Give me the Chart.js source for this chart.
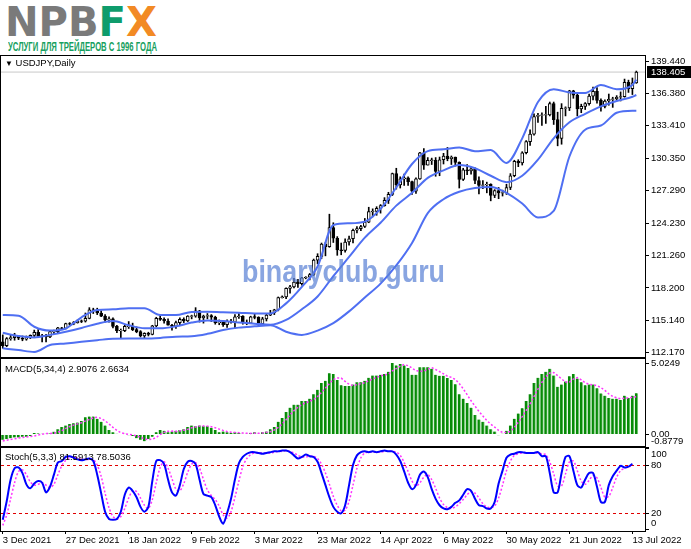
<!DOCTYPE html>
<html>
<head>
<meta charset="utf-8">
<script src="https://cdn.jsdelivr.net/npm/chart.js@4.4.0/dist/chart.umd.min.js"></script>
<style>
  body { margin: 0; background: #fff; }
  #wrap { position: relative; width: 691px; height: 549px; overflow: hidden; font-family: "Liberation Sans", Arial, sans-serif; }
  canvas { position: absolute; left: 0; }
  .hdr { position: absolute; left: 5px; font-size: 9.5px; color: #000; white-space: nowrap; }
  .logo { position: absolute; left: 5px; top: -1px; font-family: "DejaVu Sans", sans-serif; font-weight: bold; font-size: 40px; white-space: nowrap; display: inline-block; transform-origin: 0 0; }
  .sub { position: absolute; left: 8px; top: 40px; font-family: "Liberation Sans Narrow", "Liberation Sans", sans-serif; font-weight: bold; font-size: 12px; color: #17a060; white-space: nowrap; display: inline-block; transform-origin: 0 0; }
  .wm { position: absolute; left: 242px; top: 254px; font-family: "Liberation Sans", sans-serif; font-weight: bold; font-size: 31px; color: rgba(92, 130, 214, 0.72); white-space: nowrap; display: inline-block; transform-origin: 0 0; }
</style>
</head>
<body>
<div id="wrap">
  <div class="logo" id="logo"><span style="color:#7a7a7a">NPB</span><span style="color:#0e9c6c">F</span><span style="color:#f28a24">X</span></div>
  <div class="sub" id="sub">УСЛУГИ ДЛЯ ТРЕЙДЕРОВ С 1996 ГОДА</div>
  <canvas id="main" width="691" height="362" style="top:0"></canvas>
  <canvas id="macd" width="691" height="96" style="top:355px"></canvas>
  <canvas id="stoch" width="691" height="106" style="top:443px"></canvas>
  <div class="hdr" style="top:57px"><span style="font-size:8px">&#9660;</span> USDJPY,Daily</div>
  <div class="hdr" style="top:363px">MACD(5,34,4) 2.9076 2.6634</div>
  <div class="hdr" style="top:451px">Stoch(5,3,3) 81.5913 78.5036</div>
  <div class="wm" id="wm">binaryclub.guru</div>
</div>
<script>
// USDJPY daily, 3 Dec 2021 .. 14 Jul 2022 (incl. two short Sunday bars in March)
const opens = [113.15,112.80,113.45,113.55,113.70,113.50,113.40,113.55,113.75,114.05,113.70,113.70,113.60,114.10,114.10,114.45,114.40,114.85,114.80,114.95,115.10,
  115.08,115.35,116.15,116.10,115.85,115.55,115.20,115.30,114.60,114.20,114.20,114.60,114.60,114.30,114.10,113.70,113.95,113.85,114.65,115.35,115.25,
  115.10,114.70,114.60,114.95,115.25,115.10,115.55,115.55,116.05,115.40,115.55,115.60,115.45,114.95,115.00,114.75,115.10,115.00,115.50,115.55,
  114.95,114.90,115.50,115.45,114.85,115.30,115.65,115.85,116.15,117.30,117.35,118.15,118.30,118.75,118.60,119.15,119.20,119.45,120.80,121.15,122.30,122.05,123.85,122.85,121.75,
  121.70,122.50,122.80,123.60,123.75,123.95,124.35,125.35,125.35,125.65,125.90,126.40,126.95,128.90,127.85,128.40,128.50,128.15,127.25,128.40,130.85,
  129.70,130.15,130.15,129.10,130.20,130.55,130.30,130.45,129.95,128.35,129.25,129.15,129.35,128.25,127.80,127.85,127.90,126.85,127.30,127.10,127.10,127.60,
  128.70,130.05,129.90,130.85,131.90,132.60,134.25,134.35,134.40,134.40,135.45,133.95,132.20,135.00,135.05,136.65,136.25,134.95,135.20,135.45,136.15,136.60,
  135.75,135.20,135.70,135.85,135.90,136.05,136.10,137.45,136.85,137.40];
const highs = [113.80,113.55,113.80,113.95,113.75,113.70,113.70,113.80,114.25,114.30,113.85,113.85,114.15,114.25,114.50,114.50,114.90,114.95,115.05,115.20,115.20,
  115.85,116.35,116.30,116.30,116.05,115.70,115.50,115.40,114.70,114.35,114.70,115.05,114.90,114.55,114.20,114.00,114.05,114.70,115.45,115.70,115.40,
  115.30,114.80,115.10,115.40,115.40,115.60,115.65,116.35,116.10,115.65,115.80,115.70,115.55,115.20,115.10,115.20,115.25,115.70,115.80,115.60,
  115.20,115.55,115.75,115.50,115.45,115.80,116.10,116.20,117.35,117.45,118.20,118.45,119.10,119.00,119.20,119.25,119.55,120.90,121.40,122.40,122.45,125.10,124.30,123.00,122.40,
  122.80,123.05,123.70,123.95,124.05,124.70,125.75,125.60,125.80,126.00,126.65,127.15,128.95,129.40,128.60,128.85,128.60,128.20,128.50,130.90,131.25,
  130.40,130.35,130.40,130.45,130.80,131.35,130.55,130.45,130.00,129.40,129.75,129.50,129.45,128.60,128.25,128.10,127.95,127.40,127.60,127.35,127.90,128.90,
  130.15,130.20,130.95,132.00,133.00,134.50,134.55,134.60,135.20,135.60,135.60,134.65,135.45,135.15,136.70,136.70,136.35,135.40,135.55,136.35,137.00,136.95,
  135.90,135.80,136.35,136.05,136.20,136.55,137.75,137.65,137.85,138.50];
const lows = [112.55,112.70,113.30,113.30,113.35,113.25,113.30,113.45,113.65,113.60,113.15,113.15,113.55,113.90,114.00,114.30,114.35,114.70,114.75,114.90,114.95,
  115.00,115.30,115.80,115.70,115.50,115.00,115.00,114.45,114.00,113.50,114.10,114.40,114.20,114.00,113.60,113.50,113.70,113.80,114.55,115.15,114.90,
  114.70,114.25,114.40,114.70,114.95,115.05,115.30,115.45,115.00,114.90,115.30,115.05,114.80,114.75,114.60,114.50,114.90,114.40,115.35,114.80,
  114.75,114.85,115.30,114.65,114.80,115.10,115.60,115.70,116.05,117.25,117.20,117.70,118.20,118.25,118.45,119.05,118.95,119.35,120.45,120.95,121.20,122.00,122.45,121.25,121.30,
  121.55,122.20,122.40,123.35,123.55,123.85,124.30,124.85,125.00,125.20,125.85,126.10,126.85,127.45,127.55,127.80,127.80,126.95,127.05,128.35,129.30,
  129.70,129.75,128.65,128.70,129.80,130.10,129.75,129.60,127.55,128.25,128.80,128.85,127.95,127.00,127.50,127.10,126.35,126.65,126.55,126.80,126.95,127.40,
  128.60,129.55,129.70,130.75,131.55,132.50,133.70,133.40,133.60,134.30,133.50,131.50,131.65,134.30,134.80,135.95,134.30,134.60,134.90,135.30,135.80,135.50,
  134.75,135.05,135.30,135.10,135.80,135.70,136.05,136.50,136.30,137.35];
const closes = [112.80,113.45,113.55,113.70,113.50,113.40,113.55,113.75,114.05,113.70,113.70,113.60,114.10,114.10,114.45,114.40,114.85,114.80,114.95,115.10,115.08,
  115.35,116.15,116.10,115.85,115.55,115.20,115.30,114.60,114.20,114.20,114.60,114.60,114.30,114.10,113.70,113.95,113.85,114.65,115.35,115.25,115.10,
  114.70,114.60,114.95,115.25,115.10,115.55,115.55,116.05,115.40,115.55,115.60,115.45,114.95,115.00,114.75,115.10,115.00,115.50,115.55,114.95,
  114.90,115.50,115.45,114.85,115.30,115.65,115.85,116.15,117.30,117.35,118.15,118.30,118.75,118.60,119.15,119.20,119.45,120.80,121.15,122.30,122.05,123.85,122.85,121.75,121.70,
  122.50,122.80,123.60,123.75,123.95,124.35,125.35,125.35,125.65,125.90,126.40,126.95,128.90,127.85,128.40,128.50,128.15,127.25,128.40,130.85,129.70,
  130.15,130.15,129.10,130.20,130.55,130.30,130.45,129.95,128.35,129.25,129.15,129.35,128.25,127.80,127.85,127.90,126.85,127.30,127.10,127.10,127.60,128.70,
  130.05,129.90,130.85,131.90,132.60,134.25,134.35,134.40,134.40,135.45,133.95,132.20,135.00,135.05,136.65,136.25,134.95,135.20,135.45,136.15,136.60,135.75,
  135.20,135.70,135.85,135.90,136.05,136.10,137.45,136.85,137.40,138.40];
const bidPrice = 138.405;

const bbBars   = [0,4,8,12,16,20,24,28,32,36,40,44,48,52,56,60,64,68,72,76,80,84,88,92,96,100,104,108,112,116,120,124,128,132,136,140,144,148,152,156,160,161];
const bbUpper  = [115.66,115.60,114.56,114.20,114.40,115.45,116.13,116.19,116.30,116.30,115.66,115.66,115.95,115.97,115.91,115.88,115.80,115.80,116.75,118.30,120.20,124.08,124.25,124.40,125.60,127.60,129.80,131.00,131.17,131.35,131.00,131.10,129.90,132.20,135.60,136.80,136.50,136.45,137.19,136.80,137.20,137.70];
const bbMiddle = [114.00,113.69,113.56,113.80,114.10,114.45,114.85,115.10,114.70,114.42,114.41,114.60,114.95,115.15,115.10,114.95,114.85,114.75,115.20,116.20,117.40,119.30,121.10,122.90,124.30,125.90,127.10,128.50,129.20,129.70,129.40,128.70,128.10,128.70,130.20,132.20,133.70,134.50,135.20,135.70,136.10,136.26];
const bbLower  = [112.54,112.38,112.20,112.85,113.00,113.15,113.30,113.45,113.47,113.47,113.52,113.63,113.67,113.90,114.25,114.48,114.60,114.70,114.10,113.80,114.20,114.90,116.00,117.30,118.60,120.30,122.40,125.20,126.50,127.20,127.55,127.65,127.10,126.10,124.80,125.40,130.50,133.00,133.40,134.60,134.79,134.79];

// MACD(5,34,4)
const macdMain = [-0.37,-0.32,-0.26,-0.21,-0.21,-0.16,-0.16,-0.10,0.10,0.08,0.05,0.05,0.08,0.20,0.37,0.52,0.63,0.74,0.79,0.84,
  0.95,1.21,1.26,1.26,1.10,0.89,0.63,0.32,0.16,0.05,0.00,0.05,-0.05,-0.10,-0.26,-0.37,-0.47,-0.32,-0.16,0.16,
  0.32,0.26,0.16,0.21,0.26,0.32,0.37,0.52,0.63,0.58,0.63,0.58,0.58,0.47,0.32,0.16,0.21,0.16,0.10,0.16,
  0.10,0.05,0.05,0.10,0.16,0.05,0.16,0.21,0.37,0.52,0.89,1.16,1.58,1.89,2.10,2.10,2.36,2.36,2.52,2.84,
  3.15,3.62,3.78,4.31,4.25,3.83,3.47,3.41,3.41,3.52,3.68,3.68,3.78,3.99,4.15,4.15,4.20,4.25,4.41,5.02,
  4.86,4.96,4.86,4.67,4.20,4.20,4.73,4.73,4.73,4.62,4.20,4.13,4.13,3.97,3.84,3.54,2.84,2.52,2.21,1.89,
  1.37,1.05,0.89,0.63,0.37,0.21,-0.05,0.05,0.26,0.63,1.10,1.47,1.84,2.36,2.84,3.62,3.99,4.25,4.41,4.62,
  4.15,3.36,3.52,3.73,4.10,4.25,3.94,3.68,3.47,3.52,3.52,3.26,2.89,2.73,2.57,2.52,2.52,2.42,2.73,2.57,2.73,2.91];
const macdSignal = [-0.45,-0.40,-0.35,-0.30,-0.25,-0.21,-0.18,-0.15,-0.10,-0.03,0.02,0.07,0.07,0.09,0.17,0.27,0.43,0.56,0.66,0.75,
  0.83,0.95,1.06,1.17,1.21,1.13,0.97,0.74,0.50,0.29,0.13,0.06,0.01,-0.03,-0.09,-0.20,-0.30,-0.36,-0.33,-0.20,
  0.00,0.15,0.23,0.24,0.21,0.26,0.30,0.37,0.47,0.53,0.59,0.60,0.59,0.55,0.47,0.38,0.29,0.21,0.16,0.15,
  0.13,0.10,0.09,0.08,0.09,0.09,0.11,0.15,0.20,0.32,0.50,0.74,1.04,1.38,1.68,1.92,2.11,2.23,2.34,2.46,
  2.67,2.96,3.27,3.58,3.87,3.98,3.97,3.74,3.53,3.45,3.50,3.57,3.65,3.78,3.90,4.02,4.12,4.19,4.25,4.47,
  4.64,4.81,4.92,4.84,4.67,4.48,4.45,4.46,4.59,4.70,4.57,4.42,4.27,4.10,4.02,3.87,3.58,3.22,2.80,2.37,
  2.00,1.63,1.30,0.98,0.73,0.52,0.29,0.14,0.14,0.22,0.50,0.86,1.26,1.69,2.15,2.66,3.20,3.67,4.07,4.32,
  4.36,4.14,3.91,3.69,3.68,3.90,4.00,3.84,3.64,3.53,3.50,3.44,3.30,3.10,2.86,2.68,2.58,2.51,2.56,2.56,2.62,2.66];

// Stochastic(5,3,3)
const stochK = [12,35,62,76,77,70,56,51,57,60,58,46,53,68,83,85,90,91,89,87,86,87,88,85,68,45,22,13,12,13,
  22,43,52,48,40,28,22,28,60,85,86,81,62,46,42,55,75,84,85,81,62,44,42,40,30,16,7,20,38,62,
  82,90,94,96,96,95,94,95,96,97,97,98,98,96,92,88,90,93,91,90,84,70,55,40,28,22,20,30,55,80,
  92,96,97,96,97,96,97,98,97,97,93,85,72,58,50,55,68,72,65,50,38,30,26,25,28,33,36,43,50,
  48,38,30,29,26,26,34,57,73,89,93,94,96,96,95,95,95,96,91,91,70,46,46,70,90,91,73,55,52,62,
  70,70,53,34,34,55,66,73,79,77,78,81.59];
const stochD = [5,18,38,58,72,74,68,59,55,56,58,55,52,56,68,79,86,89,90,89,87,87,87,87,80,66,45,27,16,13,
  16,26,39,48,47,39,30,26,37,58,77,84,76,63,50,48,57,71,81,83,76,62,49,42,37,29,18,14,22,40,
  60,78,88,93,95,95,95,95,95,96,97,97,98,97,95,92,90,90,91,91,88,81,70,56,41,30,23,24,35,55,
  76,89,95,96,96,96,96,97,97,97,96,92,83,72,60,54,58,65,68,62,51,39,31,27,26,28,32,37,43,
  47,45,39,32,28,27,29,39,55,73,85,92,94,95,95,95,95,95,94,93,84,69,54,54,69,84,85,73,60,56,
  61,67,64,52,40,41,52,65,73,76,78,78.50];

const priceTicks = [112.170,115.140,118.200,121.260,124.230,127.290,130.350,133.410,136.380,139.440];
const macdTicks = [-0.8779, 0, 5.0249];
const stochTicks = [0, 20, 80, 100];
const dateTicks = [0,16,32,48,64,80,96,112,128,144,160];
const dateLabels = ['3 Dec 2021','27 Dec 2021','18 Jan 2022','9 Feb 2022','3 Mar 2022','23 Mar 2022','14 Apr 2022','6 May 2022','30 May 2022','21 Jun 2022','13 Jul 2022'];

const FONT = { family: '"Liberation Sans", Arial, sans-serif', size: 9.5 };
const XMIN = -0.45, XMAX = 163.2;
const BAND = '#4f6ff2';

const frame = {
  id: 'frame',
  afterDraw(chart) {
    const { ctx, chartArea: a } = chart;
    ctx.save();
    ctx.strokeStyle = '#000';
    ctx.lineWidth = 1;
    ctx.strokeRect(Math.round(a.left) - 0.5, Math.round(a.top) - 0.5, Math.round(a.right - a.left) + 1, Math.round(a.bottom - a.top) + 1);
    ctx.restore();
  }
};

function yAxis(min, max, ticks, fmt) {
  return {
    position: 'right', min, max,
    afterBuildTicks: s => { s.ticks = ticks.map(v => ({ value: v })); },
    afterFit: s => { s.width = 46; s.paddingTop = 0; s.paddingBottom = 0; },
    grid: { drawOnChartArea: false, drawTicks: true, tickLength: 4, color: '#000' },
    border: { display: false },
    ticks: { color: '#000', font: FONT, padding: 2, autoSkip: false, callback: fmt }
  };
}
const hiddenX = { type: 'linear', min: XMIN, max: XMAX, display: false, offset: false };

// main price panel
const wicks = lows.map((l, i) => ({ x: i, y: [l, highs[i]] }));
const bodies = opens.map((o, i) => {
  let lo = Math.min(o, closes[i]), hi = Math.max(o, closes[i]);
  if (hi - lo < 0.05) { const m = (hi + lo) / 2; lo = m - 0.03; hi = m + 0.03; }
  return { x: i, y: [lo, hi] };
});
const bodyFill = opens.map((o, i) => closes[i] >= o ? '#ffffff' : '#000000');
const band = (vals) => bbBars.map((b, k) => ({ x: b, y: vals[k] }));

new Chart(document.getElementById('main'), {
  type: 'bar',
  data: {
    datasets: [
      { type: 'line', data: [{ x: XMIN, y: bidPrice }, { x: XMAX, y: bidPrice }], borderColor: '#c8c8c8', borderWidth: 1, pointRadius: 0, order: 5 },
      { data: wicks, backgroundColor: '#000', barThickness: 1, grouped: false, order: 4 },
      { data: bodies, backgroundColor: bodyFill, borderColor: '#000', borderWidth: 1, borderSkipped: false, barThickness: 3, grouped: false, order: 3 },
      { type: 'line', data: band(bbUpper), borderColor: BAND, borderWidth: 2, pointRadius: 0, cubicInterpolationMode: 'monotone', order: 1 },
      { type: 'line', data: band(bbMiddle), borderColor: BAND, borderWidth: 2, pointRadius: 0, cubicInterpolationMode: 'monotone', order: 1 },
      { type: 'line', data: band(bbLower), borderColor: BAND, borderWidth: 2, pointRadius: 0, cubicInterpolationMode: 'monotone', order: 1 }
    ]
  },
  options: {
    animation: false, responsive: false,
    layout: { padding: { top: 56, bottom: 5, left: 1, right: 0 } },
    plugins: { legend: { display: false }, tooltip: { enabled: false } },
    scales: { x: hiddenX, y: yAxis(111.73, 139.91, priceTicks, v => v.toFixed(3)) }
  },
  plugins: [frame, {
    id: 'bid',
    afterDraw(chart) {
      const { ctx } = chart, s = chart.scales.y;
      const y = Math.round(s.getPixelForValue(bidPrice));
      ctx.save();
      ctx.fillStyle = '#000';
      ctx.fillRect(647, y - 6, 44, 12);
      ctx.fillStyle = '#fff';
      ctx.font = '9.5px "Liberation Sans", Arial, sans-serif';
      ctx.textBaseline = 'middle';
      ctx.fillText(bidPrice.toFixed(3), 651, y + 0.5);
      ctx.restore();
    }
  }]
});

// MACD panel
new Chart(document.getElementById('macd'), {
  type: 'bar',
  data: {
    datasets: [
      { type: 'line', data: macdSignal.map((v, i) => ({ x: i, y: v })), borderColor: '#ff33ff', borderWidth: 1.5, borderDash: [2, 2], pointRadius: 0, order: 1 },
      { data: macdMain.map((v, i) => ({ x: i, y: v })), backgroundColor: '#078a07', borderColor: '#7fcf7f',
        borderWidth: { left: 0, right: 1, top: 0, bottom: 0 }, borderSkipped: false, barThickness: 3, grouped: false, order: 2 }
    ]
  },
  options: {
    animation: false, responsive: false,
    layout: { padding: { top: 4, bottom: 4, left: 1, right: 0 } },
    plugins: { legend: { display: false }, tooltip: { enabled: false } },
    scales: {
      x: hiddenX,
      y: yAxis(-0.8779, 5.31, macdTicks, v => v === 0 ? '0.00' : (v < 0 ? [v.toFixed(4), ''] : v.toFixed(4)))
    }
  },
  plugins: [frame]
});

// Stochastic panel
const stY = yAxis(-2, 102.4, stochTicks, v => v === 100 ? ['', '100'] : v === 0 ? ['0', ''] : String(v));
stY.grid = {
  drawOnChartArea: true, drawTicks: true, tickLength: 4,
  color: c => (c.tick && (c.tick.value === 20 || c.tick.value === 80)) ? '#e00000' : 'rgba(0,0,0,0)',
  tickColor: '#000'
};
stY.border = { display: false, dash: [3, 3] };

new Chart(document.getElementById('stoch'), {
  type: 'line',
  data: {
    datasets: [
      { data: stochK.map((v, i) => ({ x: i, y: v })), borderColor: '#0000ff', borderWidth: 2, pointRadius: 0, tension: 0.3, order: 1 },
      { data: stochD.map((v, i) => ({ x: i, y: v })), borderColor: '#ff33ff', borderWidth: 1.5, borderDash: [2, 2], pointRadius: 0, tension: 0.3, order: 2 }
    ]
  },
  options: {
    animation: false, responsive: false,
    layout: { padding: { top: 4, bottom: 0, left: 1, right: 0 } },
    plugins: { legend: { display: false }, tooltip: { enabled: false } },
    scales: {
      x: {
        type: 'linear', min: XMIN, max: XMAX, offset: false,
        afterBuildTicks: s => { s.ticks = dateTicks.map(v => ({ value: v })); },
        afterFit: s => { s.height = 18; },
        grid: { drawOnChartArea: false, drawTicks: true, tickLength: 3, color: '#000' },
        border: { display: false },
        ticks: { color: '#000', font: FONT, padding: 1, align: 'start', maxRotation: 0, autoSkip: false,
          callback: v => dateLabels[dateTicks.indexOf(v)] }
      },
      y: stY
    }
  },
  plugins: [frame]
});

function fitTo(id, w) {
  const el = document.getElementById(id);
  const r = el.getBoundingClientRect().width;
  el.style.transform = 'scaleX(' + (w / r) + ')';
}
fitTo('logo', 152);
fitTo('sub', 149);
fitTo('wm', 203);
</script>
</body>
</html>
